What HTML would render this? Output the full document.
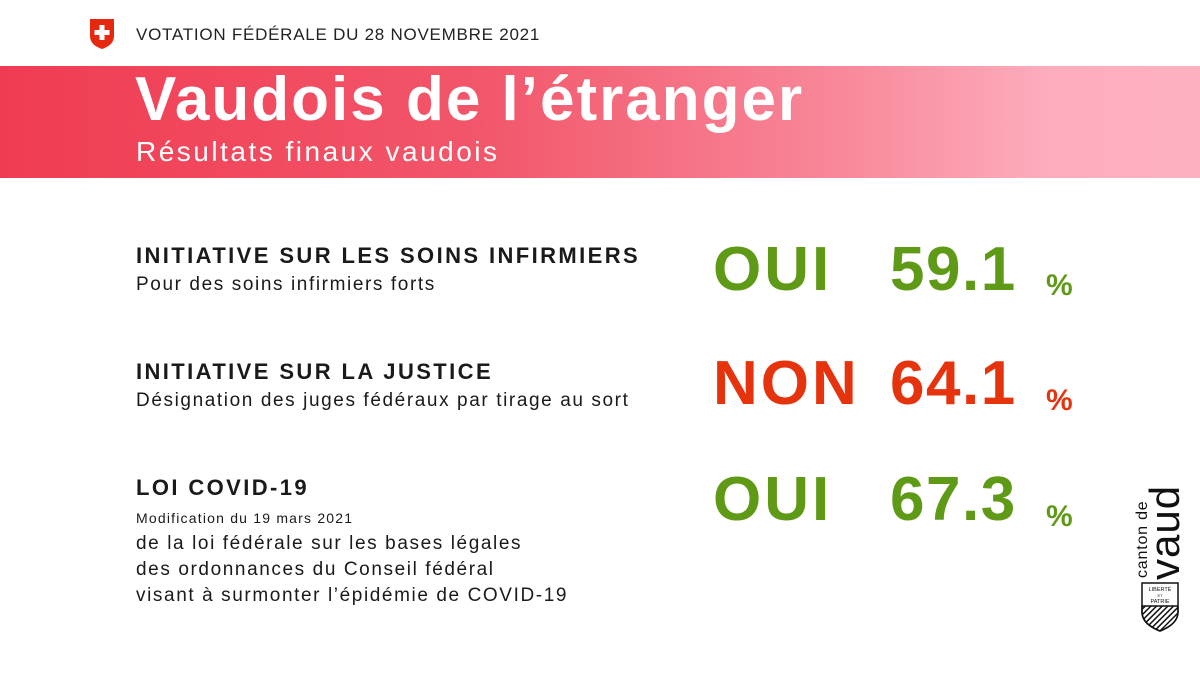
<!DOCTYPE html>
<html><head><meta charset="utf-8"><style>
body{margin:0;width:1200px;height:676px;background:#fff;position:relative;overflow:hidden;font-family:"Liberation Sans",sans-serif;}
.a{position:absolute;white-space:nowrap}
.banner{position:absolute;left:0;top:66px;width:1200px;height:112px;background:linear-gradient(90deg,#f03c52 0%,#f2566a 40%,#f8889a 70%,#fdaebe 88%,#fdb0bf 100%);}
.h{font-weight:bold;font-size:22px;color:#1a1a1a;letter-spacing:2.4px}
.s{font-size:19px;color:#1a1a1a;letter-spacing:1.6px}
.big{font-weight:bold;font-size:62px;letter-spacing:3px}
.n{letter-spacing:1.5px}
.g{color:#5f9a17}.r{color:#e5330e}
.pc{font-weight:bold;font-size:30px}
</style></head><body>
<svg class="a" style="left:89px;top:18px" width="26" height="32" viewBox="0 0 26 32"><path d="M1 1H25V18Q25 27 13 31Q1 27 1 18Z" fill="#e5280f"/><rect x="10.5" y="7" width="5" height="15" fill="#fff"/><rect x="5.5" y="12" width="15" height="5" fill="#fff"/></svg>
<div class="a" style="left:136px;top:25px;font-size:17px;color:#222;letter-spacing:0.75px">VOTATION FÉDÉRALE DU 28 NOVEMBRE 2021</div>
<div class="banner"></div>
<div class="a" style="left:135px;top:64px;font-size:62px;font-weight:bold;color:#fff;letter-spacing:2px">Vaudois de l’étranger</div>
<div class="a" style="left:136px;top:136px;font-size:28px;color:#fff;letter-spacing:2.5px">Résultats finaux vaudois</div>

<div class="a h" style="left:136px;top:243px">INITIATIVE SUR LES SOINS INFIRMIERS</div>
<div class="a s" style="left:136px;top:274px">Pour des soins infirmiers forts</div>
<div class="a big g" style="left:713px;top:234px">OUI</div>
<div class="a big g n" style="left:890px;top:234px">59.1</div>
<div class="a pc g" style="left:1046px;top:269px">%</div>

<div class="a h" style="left:136px;top:359px">INITIATIVE SUR LA JUSTICE</div>
<div class="a s" style="left:136px;top:390px">Désignation des juges fédéraux par tirage au sort</div>
<div class="a big r" style="left:713px;top:348px">NON</div>
<div class="a big r n" style="left:890px;top:348px">64.1</div>
<div class="a pc r" style="left:1046px;top:384px">%</div>

<div class="a h" style="left:136px;top:475px">LOI COVID-19</div>
<div class="a" style="left:136px;top:510px;font-size:14px;color:#1a1a1a;letter-spacing:1.2px">Modification du 19 mars 2021</div>
<div class="a s" style="left:136px;top:533px">de la loi fédérale sur les bases légales</div>
<div class="a s" style="left:136px;top:559px">des ordonnances du Conseil fédéral</div>
<div class="a s" style="left:136px;top:585px">visant à surmonter l’épidémie de COVID-19</div>
<div class="a big g" style="left:713px;top:464px">OUI</div>
<div class="a big g n" style="left:890px;top:464px">67.3</div>
<div class="a pc g" style="left:1046px;top:500px">%</div>

<div class="a" style="left:1134px;top:578px;transform:rotate(-90deg);transform-origin:0 0;font-size:16px;color:#111;letter-spacing:0.8px">canton de</div>
<div class="a" style="left:1146px;top:580px;transform:rotate(-90deg);transform-origin:0 0;font-size:42px;color:#111;line-height:38px;letter-spacing:1px">vaud</div>
<svg class="a" style="left:1140px;top:582px" width="40" height="50" viewBox="0 0 40 50">
<defs><pattern id="h" width="4" height="4" patternUnits="userSpaceOnUse" patternTransform="rotate(45)"><rect width="1.5" height="4" fill="#111"/></pattern></defs>
<path d="M2 1H38V30Q38 42 20 49Q2 42 2 30Z" fill="#fff" stroke="#111" stroke-width="1.5"/>
<path d="M2 24H38V30Q38 42 20 49Q2 42 2 30Z" fill="url(#h)" stroke="#111" stroke-width="1.5"/>
<text x="20" y="9" font-size="5.5" text-anchor="middle" font-family="Liberation Sans" fill="#111">LIBERTÉ</text>
<text x="20" y="15" font-size="4" text-anchor="middle" font-family="Liberation Sans" fill="#111">ET</text>
<text x="20" y="21" font-size="5.5" text-anchor="middle" font-family="Liberation Sans" fill="#111">PATRIE</text>
</svg>
</body></html>
